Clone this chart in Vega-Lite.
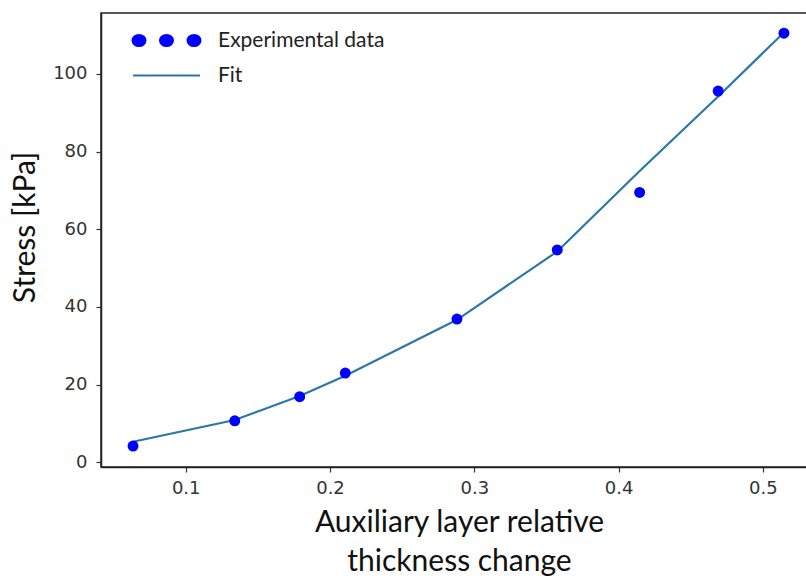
{
  "$schema": "https://vega.github.io/schema/vega-lite/v6.json",
  "autosize": {"type": "none"},
  "padding": {"left": 101, "top": 13, "right": 0, "bottom": 109},
  "width": 716,
  "height": 454,
  "background": "white",
  "config": {
    "view": {"stroke": "#222222", "strokeWidth": 1.5},
    "axis": {
      "grid": false,
      "domainColor": "#222222",
      "domainWidth": 1.5,
      "tickColor": "#333333",
      "tickSize": 5,
      "tickWidth": 1.2,
      "labelFont": "DejaVu Sans",
      "labelFontSize": 18,
      "labelColor": "#333333",
      "titleFont": "Lato",
      "titleFontSize": 30,
      "titleFontWeight": "normal",
      "titleColor": "#111111"
    }
  },
  "data": {
    "values": [
      {"x": 0.0635, "stress": 4.2, "fit": 5.3},
      {"x": 0.134, "stress": 10.7, "fit": 10.9},
      {"x": 0.179, "stress": 16.9, "fit": 17.1},
      {"x": 0.2106, "stress": 23.0, "fit": 22.3},
      {"x": 0.288, "stress": 36.9, "fit": 36.7},
      {"x": 0.3575, "stress": 54.7, "fit": 54.3},
      {"x": 0.4146, "stress": 69.5, "fit": 75.0},
      {"x": 0.469, "stress": 95.6, "fit": 94.2},
      {"x": 0.5146, "stress": 110.5, "fit": 110.7}
    ]
  },
  "layer": [
    {
      "mark": {"type": "line", "strokeWidth": 2.2},
      "encoding": {
        "x": {
          "field": "x", "type": "quantitative",
          "scale": {"domain": [0.0413, 0.5375], "nice": false, "zero": false},
          "axis": {"values": [0.1, 0.2, 0.3, 0.4, 0.5], "format": ".1f", "labelPadding": 7,
                   "title": ["Auxiliary layer relative", "thickness change"],
                   "titlePadding": 10, "titleLineHeight": 39}
        },
        "y": {
          "field": "fit", "type": "quantitative",
          "scale": {"domain": [-1.2, 115.7], "nice": false, "zero": false},
          "axis": {"values": [0, 20, 40, 60, 80, 100], "labelPadding": 9,
                   "title": "Stress [kPa]", "titlePadding": 12, "titleY": 214}
        },
        "color": {
          "datum": "Fit",
          "scale": {"domain": ["Experimental data", "Fit"], "range": ["#0000ff", "#2a77a8"]},
          "legend": {
            "orient": "none",
            "legendX": 55,
            "legendY": 17,
            "title": null,
            "padding": 0,
            "symbolSize": 100,
            "labelOffset": 41,
            "labelLimit": 400,
            "rowPadding": 13,
            "labelFont": "Lato",
            "labelFontSize": 21,
            "labelColor": "#222222",
            "encode": {
              "symbols": {
                "update": {
                  "shape": {"signal": "datum.label === 'Fit' ? 'M-6.7,0L6.7,0' : 'M-6.8,0A1.3,1.1,0,1,0,-4.2,0A1.3,1.1,0,1,0,-6.8,0ZM-1.3,0A1.3,1.1,0,1,0,1.3,0A1.3,1.1,0,1,0,-1.3,0ZM4.2,0A1.3,1.1,0,1,0,6.8,0A1.3,1.1,0,1,0,4.2,0Z'"},
                  "fill": {"signal": "datum.label === 'Fit' ? 'transparent' : '#0000ff'"},
                  "stroke": {"signal": "datum.label === 'Fit' ? '#2a77a8' : 'transparent'"},
                  "strokeWidth": {"value": 2},
                  "opacity": {"value": 1}
                }
              }
            }
          }
        }
      }
    },
    {
      "mark": {"type": "point", "filled": true, "size": 120, "opacity": 1},
      "encoding": {
        "x": {"field": "x", "type": "quantitative"},
        "y": {"field": "stress", "type": "quantitative"},
        "color": {"datum": "Experimental data"}
      }
    }
  ]
}
